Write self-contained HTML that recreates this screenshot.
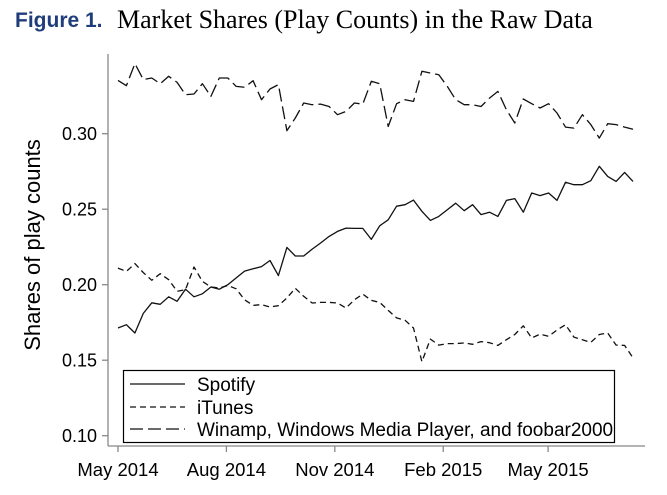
<!DOCTYPE html>
<html><head><meta charset="utf-8">
<style>
body{margin:0;background:#fff;}
svg{display:block;}
text{font-family:"Liberation Sans",Arial,sans-serif;}
</style></head>
<body>
<svg id="chart" width="667" height="495" viewBox="0 0 667 495" xmlns="http://www.w3.org/2000/svg">
<text x="15" y="27" font-size="21" font-weight="bold" fill="#1f3d7a">Figure 1.</text>
<text x="117" y="28" font-size="26" style="font-family:'Liberation Serif',serif" fill="#000">Market Shares (Play Counts) in the Raw Data</text>
<text transform="translate(40,245) rotate(-90)" text-anchor="middle" font-size="22" fill="#000">Shares of play counts</text>
<line x1="108" y1="54" x2="108" y2="446" stroke="#888" stroke-width="1.3"/>
<line x1="108" y1="446" x2="645" y2="446" stroke="#888" stroke-width="1.3"/>
<g id="yticks"></g>
<g id="xticks"></g>
<g id="series"></g>
<g>
<rect x="123.5" y="370.5" width="491" height="72" fill="#fff" stroke="#000" stroke-width="1.2"/>
<line x1="130" y1="384" x2="185" y2="384" stroke="#111" stroke-width="1.3"/>
<text x="197" y="391" font-size="19">Spotify</text>
<line x1="130" y1="407" x2="185" y2="407" stroke="#111" stroke-width="1.3" stroke-dasharray="6,4"/>
<text x="197" y="414" font-size="19">iTunes</text>
<line x1="130" y1="429" x2="185" y2="429" stroke="#111" stroke-width="1.3" stroke-dasharray="13,5"/>
<text x="197" y="436" font-size="19">Winamp, Windows Media Player, and foobar2000</text>
</g>
</svg>
<script>
const spotify=[0.1713,0.1735,0.168,0.181,0.188,0.187,0.192,0.189,0.197,0.192,0.194,0.1985,0.197,0.200,0.2045,0.209,0.2105,0.212,0.216,0.206,0.2247,0.219,0.219,0.2236,0.2276,0.232,0.2353,0.2375,0.2373,0.2373,0.230,0.239,0.243,0.252,0.253,0.256,0.2486,0.2426,0.2452,0.2497,0.254,0.249,0.253,0.2464,0.248,0.2452,0.2558,0.257,0.248,0.2607,0.259,0.2607,0.2558,0.2678,0.2662,0.2662,0.2689,0.2784,0.2717,0.2684,0.2744,0.2684];
const itunes=[0.211,0.2088,0.214,0.208,0.2029,0.2073,0.2033,0.1956,0.1967,0.2117,0.2022,0.1985,0.1978,0.1995,0.1973,0.190,0.1863,0.1868,0.1852,0.1861,0.1912,0.1976,0.1923,0.1879,0.1883,0.1883,0.1879,0.1846,0.190,0.1938,0.1896,0.1883,0.183,0.178,0.1764,0.1713,0.149,0.164,0.160,0.161,0.161,0.1614,0.1605,0.1623,0.1616,0.1598,0.1636,0.167,0.1728,0.1647,0.1673,0.1658,0.170,0.1735,0.1653,0.1636,0.1618,0.167,0.168,0.160,0.1598,0.1515];
const winamp=[0.3353,0.3318,0.3464,0.3358,0.3369,0.3331,0.338,0.334,0.3258,0.3263,0.3331,0.3247,0.3369,0.3369,0.3313,0.3307,0.3351,0.3225,0.3296,0.3325,0.302,0.3104,0.3203,0.3192,0.3196,0.318,0.3126,0.3148,0.3203,0.3196,0.3347,0.3331,0.3048,0.3199,0.3225,0.3214,0.3413,0.3402,0.3391,0.3313,0.3225,0.3192,0.3192,0.318,0.3236,0.328,0.3159,0.3071,0.323,0.3199,0.317,0.3199,0.3137,0.3044,0.3037,0.3126,0.306,0.2971,0.3066,0.306,0.3044,0.303];
const yTicks=[0.10,0.15,0.20,0.25,0.30];
const xTickLabels=["May 2014","Aug 2014","Nov 2014","Feb 2015","May 2015"];
const xTickDays=[0,92,184,276,365];

const NS="http://www.w3.org/2000/svg";
function y(v){return 435.7-(v-0.10)*1510;}
function xi(i){return 118+i*8.443;}
function xd(d){return 118+d*1.1783;}

const yt=document.getElementById('yticks');
yTicks.forEach(v=>{
  const l=document.createElementNS(NS,'line');
  l.setAttribute('x1',102);l.setAttribute('x2',108);l.setAttribute('y1',y(v));l.setAttribute('y2',y(v));
  l.setAttribute('stroke','#888');l.setAttribute('stroke-width','1.3');
  
  
  yt.appendChild(l);
  const t=document.createElementNS(NS,'text');
  t.setAttribute('x',97);t.setAttribute('y',y(v)+6.5);t.setAttribute('text-anchor','end');t.setAttribute('font-size','18');
  t.textContent=v.toFixed(2);
  
  
  yt.appendChild(t);
});
const xt=document.getElementById('xticks');
xTickLabels.forEach((lab,k)=>{
  const X=xd(xTickDays[k]);
  const l=document.createElementNS(NS,'line');
  l.setAttribute('x1',X);l.setAttribute('x2',X);l.setAttribute('y1',446);l.setAttribute('y2',452);
  l.setAttribute('stroke','#888');l.setAttribute('stroke-width','1.3');
  
  
  xt.appendChild(l);
  const t=document.createElementNS(NS,'text');
  t.setAttribute('x',X);t.setAttribute('y',476);t.setAttribute('text-anchor','middle');t.setAttribute('font-size','18.5');
  t.textContent=lab;
  
  
  xt.appendChild(t);
});
const sg=document.getElementById('series');
function draw(arr,dash,name){
  const p=document.createElementNS(NS,'polyline');
  p.setAttribute('points',arr.map((v,i)=>xi(i).toFixed(1)+','+y(v).toFixed(1)).join(' '));
  p.setAttribute('fill','none');p.setAttribute('stroke','#111');p.setAttribute('stroke-width','1.3');
  p.setAttribute('stroke-linejoin','round');
  if(dash)p.setAttribute('stroke-dasharray',dash);
  
  
  sg.appendChild(p);
}
draw(winamp,'13,5','winamp-line');
draw(itunes,'6,4','itunes-line');
draw(spotify,null,'spotify-line');
</script>
</body></html>
